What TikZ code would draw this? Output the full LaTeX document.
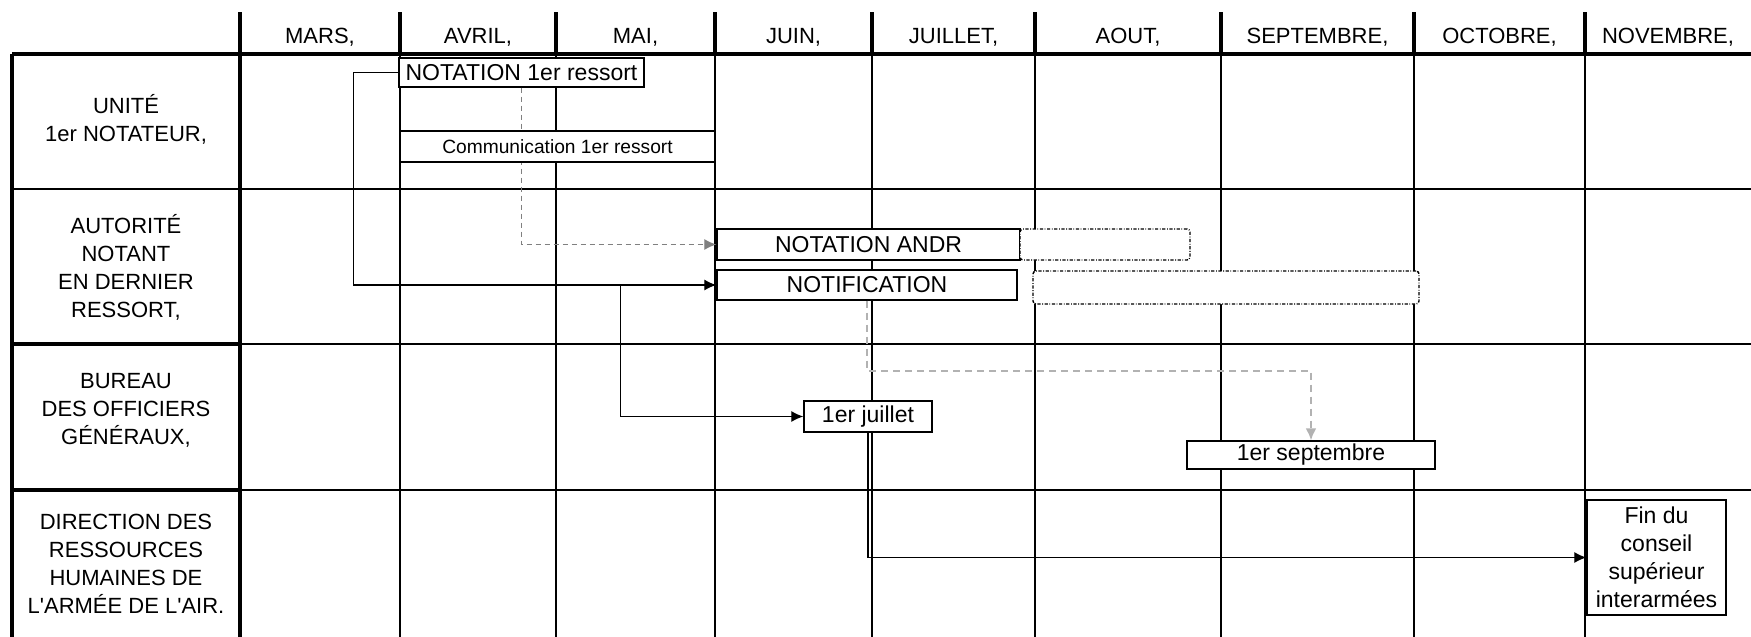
\documentclass[tikz,border=0pt]{standalone}
\usepackage{fontspec}
\setmainfont{Liberation Sans}
\usetikzlibrary{arrows.meta}
\def\px{0.5pt}
\tikzset{
  gridline/.style={line width=0.8pt},
  boldline/.style={line width=1.6pt},
  lbl/.style={align=center, inner sep=0pt, font=\fontsize{11}{14}\selectfont},
  box/.style={draw, fill=white, line width=0.7pt, inner sep=0pt, font=\fontsize{11.5}{14}\selectfont},
  ghost/.style={draw, fill=white, line width=0.7pt, dash pattern=on 1.6pt off 0.8pt on 0.4pt off 0.8pt, rounded corners=1.5pt},
  conn/.style={line width=0.6pt, -{Latex[length=6pt,width=5.5pt]}},
  lag/.style={conn, gray, dash pattern=on 2.5pt off 2pt},
  lightlag/.style={conn, gray!60, line width=1pt, dash pattern=on 3.5pt off 2.5pt},
}
\begin{document}
\begin{tikzpicture}[x=\px,y=-\px]
\useasboundingbox (0,0) rectangle (1751,637);
% grille du calendrier
\foreach \y in {189,344,490} {
  \draw[gridline] (240,\y) -- (1751,\y);
}
\draw[gridline] (12,189) -- (240,189);
\draw[boldline] (12,344) -- (240,344);
\draw[boldline] (12,490) -- (240,490);
\foreach \x in {400,556,715,872,1035,1221,1414,1585} {
  \draw[gridline] (\x,54) -- (\x,637);
  \draw[boldline] (\x,12) -- (\x,54);
}
\draw[boldline] (240,12) -- (240,637);
\draw[boldline] (12,54) -- (12,637);
\draw[boldline] (12,54) -- (1751,54);
% mois
\foreach \xa/\xb/\m [count=\i] in {240/400/{MARS,},400/556/{AVRIL,},556/715/{MAI,},715/872/{JUIN,},872/1035/{JUILLET,},1035/1221/{AOUT,},1221/1414/{SEPTEMBRE,},1414/1585/{OCTOBRE,},1585/1751/{NOVEMBRE,}} {
  \node[lbl, anchor=base] (mois\i) at ({(\xa+\xb)/2},43) {\m};
}
% acteurs
\node[lbl] (unite) at (126,119) {UNITÉ\\1er NOTATEUR,};
\node[lbl] (autorite) at (126,267) {AUTORITÉ\\NOTANT\\EN DERNIER\\RESSORT,};
\node[lbl] (bureau) at (126,410) {BUREAU\\DES OFFICIERS\\GÉNÉRAUX,};
\node[lbl] (drh) at (126,564) {DIRECTION DES\\RESSOURCES\\HUMAINES DE\\L\textquotesingle ARMÉE DE L\textquotesingle AIR.};
% etapes
\node[box, minimum width=245*\px, minimum height=29*\px] (n1r) at (521.5,72.5) {NOTATION 1er ressort};
\node[box, minimum width=303*\px, minimum height=31*\px] (andr) at (868.5,244.5) {NOTATION ANDR};
\node[ghost, minimum width=170*\px, minimum height=31*\px] (andrx) at (1105,244.5) {};
\node[box, minimum width=300*\px, minimum height=30*\px] (notif) at (867,285) {NOTIFICATION};
\node[ghost, minimum width=386*\px, minimum height=33*\px] (notifx) at (1226,287.5) {};
\node[box, minimum width=128*\px, minimum height=31*\px] (juil) at (868,416.5) {1er juillet};
\node[box, minimum width=248*\px, minimum height=28*\px] (sept) at (1311,455) {1er septembre};
\node[box, minimum width=139*\px, minimum height=115*\px, align=center] (fin) at (1656.5,557.5) {Fin du\\conseil\\supérieur\\interarmées};
% liaisons
\draw[lag] (n1r.south) |- (andr.west);
\draw[conn] (n1r.west) -- ++(-45,0) |- (notif.west);
\path (notif.west) ++(-96,0) coordinate (brk);
\draw[conn] (brk) |- (juil.west);
\draw[lightlag] (notif.south) -- ++(0,70) -| (sept.north);
\draw[conn] (juil.south) |- (fin.west);
\node[box, minimum width=315*\px, minimum height=31*\px, font=\fontsize{9.6}{12}\selectfont] (comm) at (557.5,146.5) {Communication 1er ressort};
\end{tikzpicture}
\end{document}
